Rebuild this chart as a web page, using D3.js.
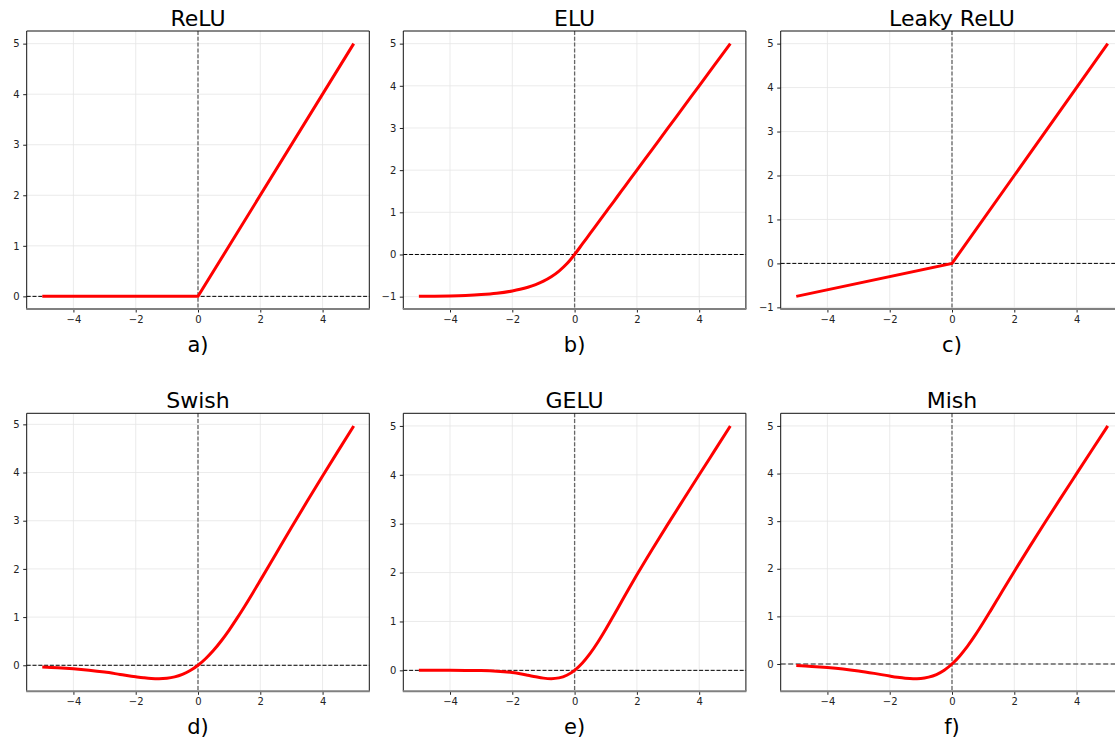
<!DOCTYPE html>
<meta charset="utf-8">

<style>

body {
  margin: 0;
  background: white;
}

svg.chart {
  display: block;
  background: white;
  font-family: "DejaVu Sans", sans-serif;
}

svg.chart .grid line {
  stroke: #e6e6e6;
  stroke-width: 0.8;
}

svg.chart .axis text {
  font: 10px "DejaVu Sans", sans-serif;
  fill: #222;
}

svg.chart .axis line {
  stroke: #222;
}

svg.chart .curve {
  fill: none;
  stroke: red;
  stroke-width: 3;
}

svg.chart text.title {
  font-size: 22px;
  text-anchor: middle;
}

svg.chart text.label {
  font-size: 21px;
  text-anchor: middle;
}

</style>


<svg class="chart" width="1115" height="742"></svg>


<script src="https://d3js.org/d3.v7.min.js"></script>

<script>

// sample points along x, shared by the smooth curves
var xs = [-5, -4.5, -4, -3.5, -3, -2.5, -2, -1.75, -1.5, -1.25, -1, -0.75, -0.5, -0.25,
  0, 0.25, 0.5, 0.75, 1, 1.25, 1.5, 1.75, 2, 2.5, 3, 3.5, 4, 4.5, 5];

var reluX = [-5, 0, 5];
var reluY = [0, 0, 5];

var leakyX = [-5, 0, 5];
var leakyY = [-0.75, 0, 5];

var eluY = [-0.993, -0.989, -0.982, -0.970, -0.950, -0.918, -0.865, -0.826, -0.777, -0.714,
  -0.632, -0.528, -0.393, -0.221, 0, 0.25, 0.5, 0.75, 1, 1.25, 1.5, 1.75, 2, 2.5, 3, 3.5, 4, 4.5, 5];

var swishY = [-0.034, -0.049, -0.072, -0.103, -0.142, -0.190, -0.238, -0.259, -0.274, -0.278,
  -0.269, -0.241, -0.189, -0.110, 0, 0.141, 0.311, 0.509, 0.731, 0.972, 1.226, 1.491, 1.762,
  2.310, 2.858, 3.398, 3.928, 4.450, 4.967];

var geluY = [0, 0, -0.0001, -0.001, -0.004, -0.016, -0.046, -0.070, -0.100, -0.132,
  -0.159, -0.170, -0.154, -0.100, 0, 0.150, 0.346, 0.580, 0.841, 1.118, 1.400, 1.680, 1.955,
  2.484, 2.996, 3.499, 4.0, 4.5, 5.0];

var mishY = [-0.034, -0.050, -0.073, -0.104, -0.146, -0.197, -0.253, -0.278, -0.298, -0.308,
  -0.303, -0.276, -0.221, -0.130, 0, 0.170, 0.375, 0.610, 0.865, 1.132, 1.403, 1.675, 1.944,
  2.471, 2.987, 3.494, 3.997, 4.499, 5.0];

var titles = ["ReLU", "ELU", "Leaky ReLU", "Swish", "GELU", "Mish"];
var labels = ["a)", "b)", "c)", "d)", "e)", "f)"];

var xTicks = [-4, -2, 0, 2, 4];
var yTicks = [
  [0, 1, 2, 3, 4, 5],
  [-1, 0, 1, 2, 3, 4, 5],
  [-1, 0, 1, 2, 3, 4, 5],
  [0, 1, 2, 3, 4, 5],
  [0, 1, 2, 3, 4, 5],
  [0, 1, 2, 3, 4, 5]
];

var series = [
  {x: reluX, y: reluY},
  {x: xs, y: eluY},
  {x: leakyX, y: leakyY},
  {x: xs, y: swishY},
  {x: xs, y: geluY},
  {x: xs, y: mishY}
];

var svg = d3.select("svg.chart");

var colLeft = [26.7, 403.3, 780.7];
var rowTop = [31, 413.3];
var width = 342.6;
var height = 278;

var fmt = function(d) { return d < 0 ? "\u2212" + (-d) : String(d); };

series.forEach(function(s, i) {
  var left = colLeft[i % 3];
  var top = rowTop[Math.floor(i / 3)];
  var points = s.x.map(function(x, j) { return [x, s.y[j]]; });

  var x = d3.scaleLinear().domain([-5.5, 5.5]).range([0, width]);
  var ext = d3.extent(s.y);
  var pad = (ext[1] - ext[0]) * 0.05;
  var y = d3.scaleLinear().domain([ext[0] - pad, ext[1] + pad]).range([height, 0]);

  var g = svg.append("g").attr("transform", `translate(${left},${top})`);

  // grid
  var grid = g.append("g").attr("class", "grid");
  grid.selectAll(".gx").data(xTicks).enter().append("line")
    .attr("x1", x).attr("x2", x)
    .attr("y1", 0).attr("y2", height);
  grid.selectAll(".gy").data(yTicks[i]).enter().append("line")
    .attr("x1", 0).attr("x2", width)
    .attr("y1", y).attr("y2", y);

  // zero lines
  var mish = titles[i] === "Mish";
  g.append("line")
    .attr("x1", 0).attr("x2", width)
    .attr("y1", y(0)).attr("y2", y(0))
    .attr("stroke", mish ? "#666" : "#000")
    .attr("stroke-width", mish ? 1.3 : 1)
    .attr("stroke-dasharray", mish ? "5,2.5" : "4,1.8");
  g.append("line")
    .attr("x1", x(0)).attr("x2", x(0))
    .attr("y1", 0).attr("y2", height)
    .attr("stroke", "#666")
    .attr("stroke-width", 1.3)
    .attr("stroke-dasharray", "4,1.8");

  // curve: straight segments for the piecewise ones, smooth for the rest
  var curve = s.x.length > 3 ? d3.curveMonotoneX : d3.curveLinear;
  g.append("path")
    .datum(points)
    .attr("class", "curve")
    .attr("d", d3.line()
      .x(function(d) { return x(d[0]); })
      .y(function(d) { return y(d[1]); })
      .curve(curve));

  // axes
  g.append("g")
    .attr("class", "x axis")
    .attr("transform", `translate(0,${height})`)
    .call(d3.axisBottom(x).tickValues(xTicks).tickFormat(fmt).tickSize(3.5).tickPadding(3.5))
    .call(function(a) { a.select(".domain").remove(); });

  g.append("g")
    .attr("class", "y axis")
    .call(d3.axisLeft(y).tickValues(yTicks[i]).tickFormat(fmt).tickSize(3.5).tickPadding(3.5))
    .call(function(a) { a.select(".domain").remove(); });

  // frame
  g.append("path")
    .attr("d", `M0,${height}V0H${width}V${height}`)
    .attr("fill", "none")
    .attr("stroke", "#111")
    .attr("stroke-width", 1);
  g.append("line")
    .attr("x1", -0.5).attr("x2", width + 0.5)
    .attr("y1", height).attr("y2", height)
    .attr("stroke", "#808080")
    .attr("stroke-width", 2);

  g.append("text")
    .attr("class", "title")
    .attr("x", width / 2)
    .attr("y", -5.5)
    .text(titles[i]);

  g.append("text")
    .attr("class", "label")
    .attr("x", width / 2)
    .attr("y", height + 43)
    .text(labels[i]);
});

</script>
